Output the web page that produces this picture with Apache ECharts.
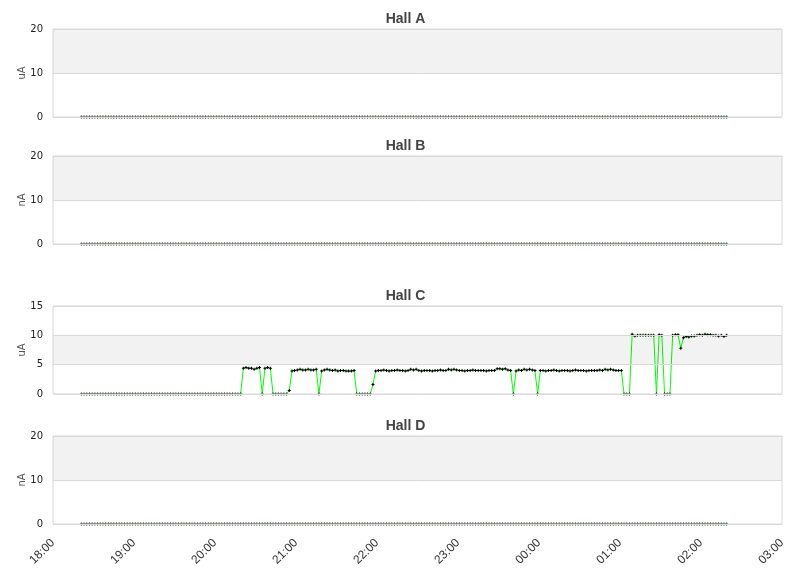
<!DOCTYPE html>
<html>
<head>
<meta charset="utf-8">
<script src="https://cdn.jsdelivr.net/npm/echarts@6/dist/echarts.min.js"></script>
<style>
    html, body { margin: 0; padding: 0; background: #fff; }
    #chart { width: 811px; height: 578px; }
</style>
</head>
<body>
<div id="chart"></div>
<script>
    // samples every 2 minutes, first one at 18:21
    const startMinute = 21
    const stepMinutes = 2

    const hallNames = ['Hall A', 'Hall B', 'Hall C', 'Hall D']
    const hallUnits = ['uA', 'nA', 'uA', 'nA']
    const hallMax = [20, 20, 15, 20]
    const hallStep = [10, 10, 5, 10]
    const tickLabels = ['18:00', '19:00', '20:00', '21:00', '22:00', '23:00', '00:00', '01:00', '02:00', '03:00']

    const hallA = [
        0,0,0,0,0,0,0,0,0,0,0,0,0,0,0,0,0,0,0,0,0,0,0,0,0,0,0,0,0,0,0,0,0,0,0,0,0,0,0,0,
        0,0,0,0,0,0,0,0,0,0,0,0,0,0,0,0,0,0,0,0,0,0,0,0,0,0,0,0,0,0,0,0,0,0,0,0,0,0,0,0,
        0,0,0,0,0,0,0,0,0,0,0,0,0,0,0,0,0,0,0,0,0,0,0,0,0,0,0,0,0,0,0,0,0,0,0,0,0,0,0,0,
        0,0,0,0,0,0,0,0,0,0,0,0,0,0,0,0,0,0,0,0,0,0,0,0,0,0,0,0,0,0,0,0,0,0,0,0,0,0,0,0,
        0,0,0,0,0,0,0,0,0,0,0,0,0,0,0,0,0,0,0,0,0,0,0,0,0,0,0,0,0,0,0,0,0,0,0,0,0,0,0,0,
        0,0,0,0,0,0,0,0,0,0,0,0,0,0,0,0,0,0,0,0,0,0,0,0,0,0,0,0,0,0,0,0,0,0,0,0,0,0,0,0
    ]
    const hallB = [
        0,0,0,0,0,0,0,0,0,0,0,0,0,0,0,0,0,0,0,0,0,0,0,0,0,0,0,0,0,0,0,0,0,0,0,0,0,0,0,0,
        0,0,0,0,0,0,0,0,0,0,0,0,0,0,0,0,0,0,0,0,0,0,0,0,0,0,0,0,0,0,0,0,0,0,0,0,0,0,0,0,
        0,0,0,0,0,0,0,0,0,0,0,0,0,0,0,0,0,0,0,0,0,0,0,0,0,0,0,0,0,0,0,0,0,0,0,0,0,0,0,0,
        0,0,0,0,0,0,0,0,0,0,0,0,0,0,0,0,0,0,0,0,0,0,0,0,0,0,0,0,0,0,0,0,0,0,0,0,0,0,0,0,
        0,0,0,0,0,0,0,0,0,0,0,0,0,0,0,0,0,0,0,0,0,0,0,0,0,0,0,0,0,0,0,0,0,0,0,0,0,0,0,0,
        0,0,0,0,0,0,0,0,0,0,0,0,0,0,0,0,0,0,0,0,0,0,0,0,0,0,0,0,0,0,0,0,0,0,0,0,0,0,0,0
    ]
    const hallC = [
        0,0,0,0,0,0,0,0,0,0,0,0,0,0,0,0,0,0,0,0,0,0,0,0,0,0,0,0,0,0,0,0,0,0,0,0,0,0,0,0,
        0,0,0,0,0,0,0,0,0,0,0,0,0,0,0,0,0,0,0,0,
        4.4,4.5,4.4,4.4,4.2,4.4,4.5, 0, 4.4,4.5,4.4, 0,0,0,0,0,0, 0.6,
        3.9,4.0,4.1,4.2,4.1,4.1,4.2,4.1,4.1,4.2, 0,
        3.9,4.1,4.2,4.1,4.0,4.1,3.9,4.0,4.0,3.9,3.9,3.9,4.0, 0,0,0,0,0,0, 1.6,
        3.9,4.0,4.0,4.1,4.0,3.9,4.0,4.0,4.1,4.0,4.0,3.9,4.0,4.2,4.1,4.2,4.0,3.9,4.0,4.0,
        4.0,3.9,4.0,4.0,4.1,4.0,4.0,4.2,4.1,4.2,4.1,4.0,4.0,3.9,4.0,4.0,4.1,4.0,4.0,4.0,
        4.0,3.9,4.0,4.0,4.0,4.3,4.3,4.2,4.3,4.1,4.0, 0,
        3.9,4.1,4.0,4.2,4.1,4.2,4.1,4.0, 0,
        4.0,4.0,3.9,4.0,4.0,4.1,4.0,3.9,4.0,4.0,4.0,3.9,4.0,4.1,4.0,4.0,4.0,3.9,4.0,4.0,
        4.0,4.0,4.1,4.0,4.2,4.1,4.2,4.1,4.0,4.0,4.0, 0,0,0,
        10.2,9.9,10.0,10.0,10.0,10.0,10.0,10.0,10.0, 0, 10.1,10.0, 0,0,0,
        10.0,10.1,10.1, 7.8, 9.6,9.8,9.7,
        9.9,9.9,10.0,10.1,10.0,10.2,10.1,10.1,10.0,10.0,9.9,10.0,9.8,10.0
    ]
    const hallD = [
        0,0,0,0,0,0,0,0,0,0,0,0,0,0,0,0,0,0,0,0,0,0,0,0,0,0,0,0,0,0,0,0,0,0,0,0,0,0,0,0,
        0,0,0,0,0,0,0,0,0,0,0,0,0,0,0,0,0,0,0,0,0,0,0,0,0,0,0,0,0,0,0,0,0,0,0,0,0,0,0,0,
        0,0,0,0,0,0,0,0,0,0,0,0,0,0,0,0,0,0,0,0,0,0,0,0,0,0,0,0,0,0,0,0,0,0,0,0,0,0,0,0,
        0,0,0,0,0,0,0,0,0,0,0,0,0,0,0,0,0,0,0,0,0,0,0,0,0,0,0,0,0,0,0,0,0,0,0,0,0,0,0,0,
        0,0,0,0,0,0,0,0,0,0,0,0,0,0,0,0,0,0,0,0,0,0,0,0,0,0,0,0,0,0,0,0,0,0,0,0,0,0,0,0,
        0,0,0,0,0,0,0,0,0,0,0,0,0,0,0,0,0,0,0,0,0,0,0,0,0,0,0,0,0,0,0,0,0,0,0,0,0,0,0,0
    ]
    const hallData = [hallA, hallB, hallC, hallD]

    const gridTops = [29, 156, 306, 436]
    const gridHeight = 88
    const borderColor = '#d9d9d9'
    const plusSymbol = 'path://M1 0H2V1H3V2H2V3H1V2H0V1H1Z'

    const chart = echarts.init(document.getElementById('chart'))

    const titles = []
    const grids = []
    const xAxes = []
    const yAxes = []
    const series = []

    hallNames.forEach((name, i) => {
        titles.push({
            text: name,
            left: 'center',
            top: gridTops[i] - 22,
            textStyle: {
                fontFamily: 'Liberation Sans',
                fontSize: 14,
                fontWeight: 'bold',
                color: '#444'
            }
        })
        grids.push({
            left: 53,
            right: 29,
            top: gridTops[i],
            height: gridHeight,
            show: true,
            borderColor: borderColor,
            borderWidth: 1,
            backgroundColor: 'transparent'
        })
        const isLast = i === hallNames.length - 1
        xAxes.push({
            gridIndex: i,
            type: 'value',
            min: 0,
            max: 540,
            interval: 60,
            show: isLast,
            axisLine: { show: false },
            axisTick: { show: false },
            splitLine: { show: false },
            axisLabel: {
                rotate: 45,
                margin: 17,
                fontFamily: 'Liberation Sans',
                fontSize: 12,
                color: '#333',
                formatter: v => tickLabels[Math.round(v / 60)]
            }
        })
        yAxes.push({
            gridIndex: i,
            type: 'value',
            min: 0,
            max: hallMax[i],
            interval: hallStep[i],
            name: hallUnits[i],
            nameLocation: 'middle',
            nameGap: 26,
            nameMoveOverlap: false,
            nameTextStyle: {
                fontFamily: 'DejaVu Sans',
                fontSize: 10,
                color: '#555'
            },
            axisLine: { show: false },
            axisTick: { show: false },
            axisLabel: {
                margin: 10,
                fontFamily: 'DejaVu Sans',
                fontSize: 10,
                color: '#222'
            },
            splitLine: { lineStyle: { color: borderColor, width: 1 } },
            splitArea: {
                show: true,
                areaStyle: { color: ['rgba(0,0,0,0)', 'rgba(0,0,0,0.05)'] }
            }
        })
        series.push({
            name: name,
            type: 'line',
            xAxisIndex: i,
            yAxisIndex: i,
            z: -1,
            data: hallData[i].map((v, k) => [startMinute + k * stepMinutes, v]),
            symbol: plusSymbol,
            symbolSize: 3,
            showSymbol: true,
            showAllSymbol: true,
            itemStyle: { color: '#000' },
            lineStyle: { color: '#00ff00', width: 1 },
            emphasis: { disabled: true }
        })
    })

    chart.setOption({
        animation: false,
        title: titles,
        grid: grids,
        xAxis: xAxes,
        yAxis: yAxes,
        series: series
    })
</script>
</body>
</html>
